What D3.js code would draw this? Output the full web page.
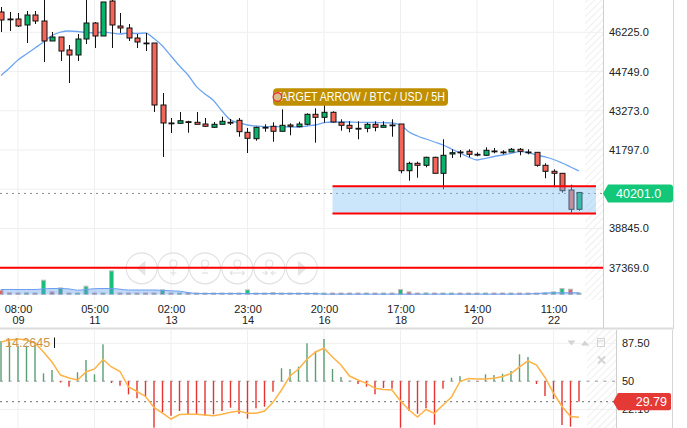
<!DOCTYPE html>
<html><head><meta charset="utf-8">
<script src="https://cdn.jsdelivr.net/npm/d3@7"></script>
<style>body{margin:0;background:#fff;} svg{display:block;font-family:"Liberation Sans",Arial,sans-serif;}</style>
</head><body><svg id="c" width="687" height="428"></svg>
<script>
// ---- DATA ----
const open  = [46989,46725,46725,46500,46876,46650,45898,46048,45559,45371,45973,46575,46086,47402,46462,46387,46010,45822,45822,43490,42813,42801,42862,42839,42775,42651,42764,42839,42914,42463,42222,42651,42689,42501,42738,42674,42764,43140,43027,43215,42839,42726,42613,42613,42764,42651,42738,42775,41018,41296,41221,41522,40920,41647,41722,41748,41635,41598,41759,41722,41722,41823,41722,41710,41221,40996,40920,40292,39566];
const high  = [47177,46989,46951,47026,47026,47600,46236,46048,45747,46161,47600,46612,47365,47600,46951,46537,46161,46199,45822,43941,43001,43227,42899,43227,43001,42850,43050,42963,43001,42625,42674,42764,42839,43328,42801,42862,43178,43366,43554,43253,42952,42877,42877,42824,42877,42877,42952,42775,41357,41357,41545,41545,42200,41823,41797,41823,41710,41899,41872,41786,41872,41872,41823,41710,41296,41071,40920,40492,40191];
const low   = [46236,46274,46424,45822,46537,45108,45898,45145,44318,45145,45785,45634,46086,45634,46199,45898,45634,45521,43227,41534,42436,42801,42448,42764,42674,42625,42764,42738,42297,41684,42147,42486,42109,42486,42350,42651,42726,42072,42824,42824,42523,42463,42200,42463,42501,42651,42297,40920,40642,40755,41146,40920,40319,41496,41522,41522,41560,41571,41673,41635,41722,41598,41635,41169,40732,40394,40191,39438,39513];
const close = [46688,46715,46462,46876,46650,45898,46048,45521,45371,45973,46575,46086,47365,46500,46387,46010,45860,45810,43490,42813,42805,42899,42855,42764,42689,42764,42877,42832,42486,42237,42651,42645,42501,42726,42689,42775,43140,43027,43215,42850,42726,42613,42608,42764,42651,42726,42732,41018,41296,41221,41522,40920,41598,41696,41715,41635,41630,41786,41754,41716,41823,41748,41716,41221,40996,40920,40266,39566,40201];
const maLine = [44600,44882,45183,45409,45634,45860,46104,46236,46274,46255,46217,46199,46236,46199,46161,46199,46180,46199,45990,45710,45333,44957,44619,44180,43904,43660,43264,42930,42813,42738,42700,42674,42674,42674,42662,42662,42700,42738,42824,42850,42850,42850,42839,42839,42832,42824,42813,42738,42474,42324,42211,42098,41985,41835,41684,41534,41421,41485,41552,41609,41666,41733,41703,41609,41534,41440,41308,41158,41007];
const volume = [430,160,100,160,60,1430,260,660,50,50,830,50,50,2360,50,50,50,50,50,460,30,30,30,30,30,30,30,30,130,460,30,30,200,30,30,30,30,30,30,30,30,30,30,30,30,30,30,500,260,50,160,30,30,30,30,30,30,30,30,30,30,30,30,50,160,260,600,530,50];
const volUp  = [0,0,0,1,0,1,0,1,0,1,1,0,1,1,0,0,0,0,0,1,0,1,0,0,0,1,1,0,1,1,1,0,1,1,0,1,1,0,1,0,0,0,0,1,0,1,0,1,0,0,1,0,1,1,0,0,0,1,0,0,1,0,0,0,1,1,1,0,1];
const volMA  = [500,500,500,500,500,560,600,600,560,430,500,580,600,600,530,450,450,450,450,420,370,330,200,110,100,100,100,100,100,100,100,100,100,100,100,100,100,100,40,40,40,40,40,40,40,40,40,40,40,40,40,40,40,40,40,40,40,40,40,40,40,40,60,100,150,170,170,170,170];
const oscBars = [89.8,89.1,85.1,85.1,85.8,57.8,61.1,48.7,44.6,58.8,71.0,56.8,86.5,48.2,45.5,37.0,33.1,34.7,4.0,19.2,15.8,20.5,17.2,16.5,15.8,17.2,20.5,23.8,17.8,12.9,23.2,24.8,39.6,62.8,62.1,64.4,87.5,79.9,91.8,62.1,54.2,50.5,47.2,44.6,37.0,43.3,42.6,4.0,20.5,17.8,23.2,6.9,42.6,53.5,55.1,50.5,49.7,56.8,56.1,57.4,60.1,76.6,74.0,47.2,35.3,32.4,6.6,5.0,29.79];
const oscLine = [88.8,90.8,91.8,90.8,87.8,78.9,69.0,56.1,53.2,51.2,59.1,62.1,71.5,64.1,59.6,44.3,39.8,34.9,24.0,18.5,12.6,17.0,17.2,17.2,16.5,15.8,17.2,19.2,20.5,18.2,18.2,20.5,29.1,41.3,55.1,62.1,71.7,78.9,82.6,74.0,66.0,55.1,51.2,47.9,43.0,41.8,41.3,30.4,21.5,14.6,22.0,18.2,26.4,34.4,49.7,52.7,52.2,52.2,52.9,54.7,57.6,64.1,70.0,66.0,53.7,38.3,25.0,15.1,14.26];
const priceGrid  = [46225,44749,43273,41797,40321,38845,37369];
const priceTicks = [46225,44749,43273,41797,38845,37369];
const oscTicks = [87.5,50,22.1];
const oscTickLabels = ["87.50","50","22.10"];
const tickIdx   = [2,11,20,29,38,47,56,65];
const tickTimes = ["08:00","05:00","02:00","23:00","20:00","17:00","14:00","11:00"];
const tickDays  = ["09","11","13","14","16","18","20","22"];
const lastPrice = 40201.0;
const supportLevel = 37369;
const zoneLow = 39408, zoneHigh = 40431, zoneStartIdx = 39, zoneEndIdx = 70;
const oscLast = 29.79, oscHeader = "14.2645";
const annotText = "TARGET ARROW / BTC / USD / 5H", annotIdx = 32, annotPrice = 43791;

// ---- SCALES ----
const svg = d3.select("#c");
const x  = d3.scaleLinear().domain([0, 68]).range([1, 579]);
const y  = d3.scaleLinear().domain([37369, 46225]).range([267.7, 32.3]);
const yv = d3.scaleLinear().domain([0, 2400]).range([294.5, 270.5]);
const yo = d3.scaleLinear().domain([50, 87.5]).range([381.2, 343.3]);
const idx = d3.range(open.length);

const defs = svg.append("defs");
const pat = defs.append("pattern").attr("id","hatch").attr("width",5).attr("height",5)
  .attr("patternUnits","userSpaceOnUse").attr("patternTransform","rotate(45)");
pat.append("line").attr("x1",0).attr("y1",0).attr("x2",0).attr("y2",5).attr("stroke","#ebebeb").attr("stroke-width",1.6);
defs.append("clipPath").attr("id","mainClip").append("rect").attr("x",0).attr("y",0).attr("width",603).attr("height",300);
defs.append("clipPath").attr("id","oscClip").append("rect").attr("x",0).attr("y",330).attr("width",616).attr("height",98);

// ---- MAIN PANE ----
const main = svg.append("g").attr("clip-path","url(#mainClip)");
main.append("rect").attr("x", x(68)+6).attr("y",0).attr("width",603-x(68)-6).attr("height",300).attr("fill","url(#hatch)");
main.selectAll(".hg").data(priceGrid).join("line").attr("x1",0).attr("x2",603)
  .attr("y1",d=>y(d)).attr("y2",d=>y(d)).attr("stroke","#efefef");
main.selectAll(".vg").data(tickIdx).join("line").attr("x1",d=>x(d)).attr("x2",d=>x(d))
  .attr("y1",0).attr("y2",300).attr("stroke","#efefef");

// volume
main.selectAll(".vb").data(idx).join("rect")
  .attr("x",i=>x(i)-2).attr("width",4)
  .attr("y",i=>Math.min(yv(volume[i]), yv(0)-1.5))
  .attr("height",i=>Math.max(yv(0)-yv(volume[i]),1.5))
  .attr("fill",i=>volUp[i]?"#19bf78":"#e8615c")
  .attr("stroke","#bdbdbd").attr("stroke-width",1);
main.append("path").datum(idx)
  .attr("d", d3.area().x(i=>x(i)).y0(yv(0)).y1(i=>yv(volMA[i])).curve(d3.curveMonotoneX))
  .attr("fill","rgba(90,150,235,0.38)");
main.append("path").datum(idx)
  .attr("d", d3.line().x(i=>x(i)).y(i=>yv(volMA[i])).curve(d3.curveMonotoneX))
  .attr("fill","none").attr("stroke","#6b9ff0").attr("stroke-width",1);

// nav buttons (faint)
const navX = [141.7,173.3,205,237.3,269.3,301.7];
const nav = main.append("g").attr("stroke","#e2e2e2").attr("fill","none").attr("stroke-width",1.2);
navX.forEach((cx,k)=>{
  nav.append("circle").attr("cx",cx).attr("cy",268.3).attr("r",15.5).attr("fill","rgba(255,255,255,0.35)");
  if(k===0) nav.append("path").attr("d",`M${cx+3},${262} L${cx-4},${268.3} L${cx+3},${274.6}Z`).attr("fill","#e6e6e6");
  else if(k===5) nav.append("path").attr("d",`M${cx-3},${262} L${cx+4},${268.3} L${cx-3},${274.6}Z`).attr("fill","#e6e6e6");
  else {
    nav.append("circle").attr("cx",cx).attr("cy",263.5).attr("r",3.5);
    nav.append("line").attr("x1",cx).attr("x2",cx).attr("y1",267).attr("y2",270);
    if(k===1){nav.append("line").attr("x1",cx-3).attr("x2",cx+3).attr("y1",273).attr("y2",273);nav.append("line").attr("x1",cx).attr("x2",cx).attr("y1",270).attr("y2",276);}
    if(k===2){nav.append("line").attr("x1",cx-3).attr("x2",cx+3).attr("y1",273).attr("y2",273);}
    if(k===3){nav.append("path").attr("d",`M${cx-7},273 h14 M${cx-5},271 l-2,2 l2,2 M${cx+5},271 l2,2 l-2,2`);}
    if(k===4){nav.append("path").attr("d",`M${cx-7},273 h5 M${cx+2},273 h5 M${cx-4},271 l2,2 l-2,2 M${cx+4},271 l-2,2 l2,2`);}
  }
});

// support line
main.append("line").attr("x1",0).attr("x2",603).attr("y1",y(supportLevel)).attr("y2",y(supportLevel))
  .attr("stroke","#ff0000").attr("stroke-width",2);
// last price dotted
main.append("line").attr("x1",0).attr("x2",603).attr("y1",y(lastPrice)+1).attr("y2",y(lastPrice)+1)
  .attr("stroke","#8a8a8a").attr("stroke-dasharray","2,4");

// MA line
main.append("path").datum(idx)
  .attr("d", d3.line().x(i=>x(i)).y(i=>y(maLine[i])).curve(d3.curveMonotoneX))
  .attr("fill","none").attr("stroke","#6ea6f3").attr("stroke-width",1.3);

// candles
const cg = main.append("g");
cg.selectAll(".wick").data(idx).join("line")
  .attr("x1",i=>Math.round(x(i))+0.5).attr("x2",i=>Math.round(x(i))+0.5)
  .attr("y1",i=>y(high[i])).attr("y2",i=>y(low[i])).attr("stroke","#111").attr("stroke-width",1);
cg.selectAll(".body").data(idx).join("rect")
  .attr("x",i=>Math.round(x(i))-2).attr("width",5)
  .attr("y",i=>y(Math.max(open[i],close[i])))
  .attr("height",i=>Math.max(Math.abs(y(open[i])-y(close[i])),0.8))
  .attr("fill",i=>close[i]>=open[i]?"#07b46b":"#f4665a")
  .attr("stroke","#111").attr("stroke-width",1);

// zone
main.append("rect").attr("x",x(zoneStartIdx)).attr("width",x(zoneEndIdx)-x(zoneStartIdx))
  .attr("y",y(zoneHigh)).attr("height",y(zoneLow)-y(zoneHigh)).attr("fill","rgba(130,195,245,0.42)");
[zoneHigh,zoneLow].forEach(v=>main.append("line").attr("x1",x(zoneStartIdx)).attr("x2",x(zoneEndIdx))
  .attr("y1",y(v)).attr("y2",y(v)).attr("stroke","#ff0000").attr("stroke-width",2));

// annotation
const ax = x(annotIdx), ay = y(annotPrice);
svg.append("rect").attr("x",ax).attr("y",ay-8.7).attr("width",175).attr("height",17.4).attr("rx",4).attr("fill","#bf8f00");
svg.append("text").attr("x",ax+2).attr("y",ay+4.5).attr("fill","#fff").attr("font-size",12.5)
  .attr("textLength",170).attr("lengthAdjust","spacingAndGlyphs").text(annotText);
svg.append("circle").attr("cx",ax+4.5).attr("cy",ay).attr("r",4.3).attr("fill","#d8c08a").attr("stroke","#ee3030").attr("stroke-width",1.4);

// right axis main
svg.append("line").attr("x1",603.5).attr("x2",603.5).attr("y1",0).attr("y2",328).attr("stroke","#cfcfcf");
svg.append("line").attr("x1",673.5).attr("x2",673.5).attr("y1",0).attr("y2",328).attr("stroke","#d6d6d6");
const ra = svg.append("g").attr("transform","translate(603,0)")
  .call(d3.axisRight(y).tickValues(priceTicks).tickSize(0).tickPadding(6).tickFormat(d3.format(".1f")));
ra.select(".domain").remove();
ra.selectAll("text").attr("font-size",11).attr("fill","#222").attr("font-family","Liberation Sans, Arial, sans-serif");

// last price tag
const ly = y(lastPrice)+1;
svg.append("path").attr("d",`M603,${ly} L608,${ly-9} H670 Q673,${ly-9} 673,${ly-6} V${ly+6} Q673,${ly+9} 670,${ly+9} H608 Z`).attr("fill","#12c878");
svg.append("text").attr("x",616).attr("y",ly+4.5).attr("fill","#fff").attr("font-size",12.5).text(d3.format(".1f")(lastPrice));

// x axis
const xa = svg.append("g").attr("transform","translate(0,300)")
  .call(d3.axisBottom(x).tickValues(tickIdx).tickSize(0).tickFormat((d,i)=>tickTimes[i]));
xa.select(".domain").remove();
xa.selectAll("text").each(function(d,i){
  const t = d3.select(this).text(null).attr("y",13).attr("dy",null).attr("font-size",11).attr("fill","#222")
    .attr("font-family","Liberation Sans, Arial, sans-serif");
  t.append("tspan").attr("x",0).attr("dy",0).text(tickTimes[i]);
  t.append("tspan").attr("x",0).attr("dy",10.5).text(tickDays[i]);
});

// separator
svg.append("rect").attr("x",0).attr("y",327.5).attr("width",674).attr("height",2).attr("fill","#dcdcdc");

// ---- OSC PANE ----
const osc = svg.append("g").attr("clip-path","url(#oscClip)");
osc.append("rect").attr("x",x(68)+8).attr("y",330).attr("width",616-x(68)-8).attr("height",98).attr("fill","url(#hatch)");
osc.selectAll(".vg").data(tickIdx).join("line").attr("x1",d=>x(d)).attr("x2",d=>x(d))
  .attr("y1",330).attr("y2",428).attr("stroke","#efefef");
osc.selectAll(".hg").data([87.5,22.1]).join("line").attr("x1",0).attr("x2",616)
  .attr("y1",d=>yo(d)).attr("y2",d=>yo(d)).attr("stroke","#efefef");
osc.append("line").attr("x1",0).attr("x2",616).attr("y1",yo(50)).attr("y2",yo(50))
  .attr("stroke","#9a9a9a").attr("stroke-dasharray","3,5.5");
osc.append("line").attr("x1",0).attr("x2",616).attr("y1",yo(oscLast)).attr("y2",yo(oscLast))
  .attr("stroke","#8a8a8a").attr("stroke-dasharray","2,4").attr("stroke-width",1.2);
osc.selectAll(".ob").data(idx).join("rect")
  .attr("x",i=>x(i)-0.7).attr("width",1.4)
  .attr("y",i=>Math.min(yo(oscBars[i]),yo(50)))
  .attr("height",i=>Math.abs(yo(oscBars[i])-yo(50)))
  .attr("fill",i=>oscBars[i]>=50?"#5a9f73":"#e53331");
osc.append("path").datum(idx)
  .attr("d", d3.line().x(i=>x(i)).y(i=>yo(oscLine[i])))
  .attr("fill","none").attr("stroke","#ffb347").attr("stroke-width",1.5);
osc.append("text").attr("x",5).attr("y",346.5).attr("fill","#c9944a").attr("font-size",12.5).text(oscHeader);
osc.append("line").attr("x1",54.5).attr("x2",54.5).attr("y1",337.5).attr("y2",348).attr("stroke","#111");

// icons
const ic = svg.append("g").attr("fill","#d4d4d4").attr("stroke","none");
ic.append("path").attr("d","M567.5,340.5 h8 l-4,5 z");
ic.append("path").attr("d","M581,345.5 h8 l-4,-5 z");
svg.append("rect").attr("x",597.5).attr("y",338.5).attr("width",7).attr("height",8).attr("fill","none").attr("stroke","#d4d4d4");
svg.append("line").attr("x1",597.5).attr("x2",604.5).attr("y1",341).attr("y2",341).attr("stroke","#d4d4d4");
svg.append("path").attr("d","M598,356.5 l7,7 M605,356.5 l-7,7").attr("stroke","#d4d4d4").attr("stroke-width",2);

// osc axis
svg.append("line").attr("x1",616.5).attr("x2",616.5).attr("y1",330).attr("y2",428).attr("stroke","#cfcfcf");
svg.append("line").attr("x1",672.5).attr("x2",672.5).attr("y1",330).attr("y2",428).attr("stroke","#d6d6d6");
const oa = svg.append("g").attr("transform","translate(616,0)")
  .call(d3.axisRight(yo).tickValues(oscTicks).tickSize(0).tickPadding(6).tickFormat((d,i)=>oscTickLabels[i]));
oa.select(".domain").remove();
oa.selectAll("text").attr("font-size",11).attr("fill","#222").attr("font-family","Liberation Sans, Arial, sans-serif");
const oy = yo(oscLast);
svg.append("path").attr("d",`M613,${oy} L618,${oy-8.7} H669 Q671,${oy-8.7} 671,${oy-6.7} V${oy+6.7} Q671,${oy+8.7} 669,${oy+8.7} H618 Z`).attr("fill","#e53935");
svg.append("text").attr("x",667).attr("y",oy+4.5).attr("text-anchor","end").attr("fill","#fff").attr("font-size",12.5).text(d3.format(".2f")(oscLast));
</script></body></html>
